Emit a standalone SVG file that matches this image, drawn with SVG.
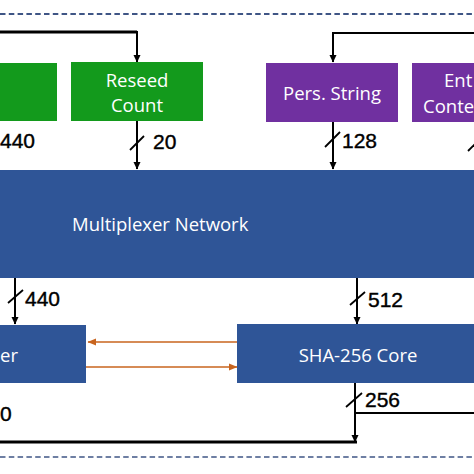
<svg xmlns="http://www.w3.org/2000/svg" width="474" height="474" viewBox="0 0 474 474">
<defs>
<marker id="ah" markerWidth="8" markerHeight="8" refX="7" refY="4" orient="auto" markerUnits="userSpaceOnUse"><path d="M0,0.5 L7.5,4 L0,7.5 Z" fill="#000"/></marker>
<marker id="ao" markerWidth="9" markerHeight="8" refX="8" refY="4" orient="auto" markerUnits="userSpaceOnUse"><path d="M0,0.5 L8.5,4 L0,7.5 Z" fill="#c8641e"/></marker>
<style>
.box-g{fill:#139a1c}
.box-p{fill:#7030a0}
.box-b{fill:#2f5597}
.wt{font-family:"Open Sans","Liberation Sans",sans-serif;font-size:18.5px;fill:#fff}
.lb{font-family:"Liberation Sans",Arial,sans-serif;font-size:21px;fill:#000;stroke:#000;stroke-width:0.4}
.w{fill:none;stroke:#000;stroke-width:2}
.wk{fill:none;stroke:#000;stroke-width:3.2}
.tk{fill:none;stroke:#000;stroke-width:1.8}
.or{fill:none;stroke:#c8641e;stroke-width:1.4}
.dash{fill:none;stroke:#3f5585;stroke-dasharray:5.5 3.3}
</style>
</defs>
<rect width="474" height="474" fill="#fff"/>
<line class="dash" x1="0" y1="14" x2="474" y2="14" stroke-width="2.2"/>
<line class="dash" x1="0" y1="457" x2="474" y2="457" stroke-width="1.7"/>

<g id="connectors">
<path class="wk" d="M0,32 H137"/>
<path class="w" d="M137,31 V62" marker-end="url(#ah)"/>
<path class="w" d="M474,33 H333 V62" marker-end="url(#ah)"/>
<path class="w" d="M137,121 V169" marker-end="url(#ah)"/>
<path class="w" d="M333,122 V169" marker-end="url(#ah)"/>
<path class="w" d="M15,278 V324" marker-end="url(#ah)"/>
<path class="w" d="M357,278 V324" marker-end="url(#ah)"/>
<path class="w" d="M355,383 V442" marker-end="url(#ah)"/>
<path class="w" d="M355,413 H474" stroke-width="1.6"/>
<path class="wk" d="M0,442 H357"/>
<path class="or" d="M237,342 H88" marker-end="url(#ao)"/>
<path class="or" d="M86,367 H237" marker-end="url(#ao)"/>
<line class="tk" x1="130" y1="150" x2="144" y2="136"/>
<line class="tk" x1="325" y1="147" x2="340" y2="132"/>
<line class="tk" x1="468" y1="151" x2="475" y2="144"/>
<line class="tk" x1="8" y1="303" x2="23" y2="290"/>
<line class="tk" x1="350" y1="305" x2="365" y2="292"/>
<line class="tk" x1="346" y1="407" x2="362" y2="393"/>
</g>

<g id="node-green1"><rect class="box-g" x="-10" y="63" width="67" height="58"/></g>
<g id="node-reseed"><rect class="box-g" x="71" y="62" width="132" height="59"/>
<text class="wt" x="137" y="87" text-anchor="middle">Reseed</text>
<text class="wt" x="137" y="112" text-anchor="middle">Count</text></g>
<g id="node-pers"><rect class="box-p" x="266" y="63" width="132" height="59"/>
<text class="wt" x="332" y="100" text-anchor="middle">Pers. String</text></g>
<g id="node-entropy"><rect class="box-p" x="412" y="63" width="80" height="59"/>
<text class="wt" x="444" y="87">Ent</text>
<text class="wt" x="423" y="113">Conte</text></g>
<g id="node-mux"><rect class="box-b" x="-5" y="170" width="484" height="108"/>
<text class="wt" x="72" y="231" font-size="19">Multiplexer Network</text></g>
<g id="node-left"><rect class="box-b" x="-10" y="325" width="96" height="58"/>
<text class="wt" x="0" y="362">er</text></g>
<g id="node-sha"><rect class="box-b" x="237" y="324" width="245" height="59"/>
<text class="wt" x="358" y="362" text-anchor="middle" font-size="19">SHA-256 Core</text></g>

<g id="labels">
<text class="lb" x="0" y="148">440</text>
<text class="lb" x="153" y="149">20</text>
<text class="lb" x="342" y="148">128</text>
<text class="lb" x="25" y="306">440</text>
<text class="lb" x="368" y="307">512</text>
<text class="lb" x="365" y="407">256</text>
<text class="lb" x="0" y="421">0</text>
</g>
</svg>
